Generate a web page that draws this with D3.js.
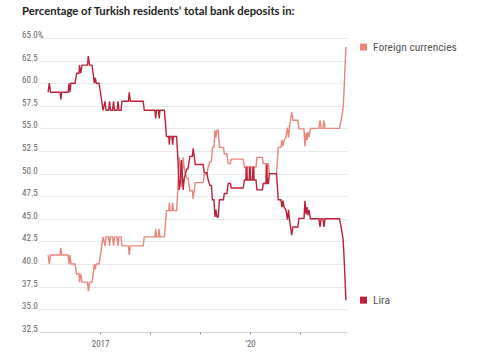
<!DOCTYPE html>
<html>
<head>
<meta charset="utf-8">
<script src="https://cdn.jsdelivr.net/npm/d3@7/dist/d3.min.js"></script>
<style>
  html, body { margin: 0; padding: 0; background: #fff; }
  svg { display: block; }
  .narrow { font-family: "Liberation Sans Narrow", "Roboto Condensed", "DejaVu Sans Condensed", "Liberation Sans", sans-serif; }
  .title { font-family: Lato, "Open Sans", "Noto Sans", sans-serif; }
</style>
</head>
<body>
<svg id="chart" width="500" height="353"></svg>
<script>
// ---- Data ----
const title = "Percentage of Turkish residents\u2019 total bank deposits in:";
const seriesNames = ["Foreign currencies", "Lira"];
const dates = [
  "2015-12-18","2015-12-27","2016-01-05","2016-03-14","2016-03-20","2016-03-27","2016-05-12","2016-05-19","2016-05-26","2016-06-02",
  "2016-07-02","2016-07-14","2016-07-31","2016-08-04","2016-08-13","2016-08-22","2016-10-01","2016-10-07","2016-10-16","2016-11-03",
  "2016-11-12","2016-11-20","2016-11-27","2016-12-04","2016-12-24","2017-01-04","2017-01-13","2017-01-23","2017-02-06","2017-02-14",
  "2017-03-04","2017-03-11","2017-03-18","2017-04-02","2017-04-09","2017-04-16","2017-05-05","2017-05-12","2017-05-19","2017-06-03",
  "2017-06-10","2017-07-27","2017-08-02","2017-08-10","2017-11-12","2017-11-20","2018-02-06","2018-02-11","2018-02-17","2018-03-04",
  "2018-03-09","2018-03-14","2018-04-16","2018-05-01","2018-05-18","2018-05-22","2018-05-27","2018-06-10","2018-06-15","2018-06-21",
  "2018-07-14","2018-07-24","2018-08-02","2018-08-10","2018-08-18","2018-08-26","2018-08-31","2018-09-08","2018-09-25","2018-10-05",
  "2018-10-19","2018-11-06","2018-11-12","2018-11-20","2018-11-27","2019-01-24","2019-02-01","2019-02-21","2019-02-28","2019-03-14",
  "2019-03-25","2019-04-02","2019-04-13","2019-04-20","2019-04-27","2019-05-05","2019-05-14","2019-05-23","2019-06-21","2019-06-28",
  "2019-07-16","2019-07-26","2019-08-11","2019-08-18","2019-11-12","2019-11-22","2019-12-02","2019-12-07","2019-12-13","2019-12-26",
  "2020-01-01","2020-01-07","2020-01-19","2020-01-25","2020-02-01","2020-02-14","2020-02-21","2020-04-01","2020-04-07","2020-04-27",
  "2020-05-02","2020-05-08","2020-05-15","2020-05-22","2020-07-13","2020-07-26","2020-08-14","2020-08-22","2020-08-29","2020-09-06",
  "2020-09-20","2020-10-01","2020-10-09","2020-10-16","2020-11-01","2020-11-10","2020-12-16","2020-12-24","2021-01-30","2021-02-06",
  "2021-02-14","2021-02-21","2021-02-28","2021-03-07","2021-03-18","2021-05-19","2021-05-27","2021-06-03","2021-06-17","2021-06-25",
  "2021-07-02","2021-10-16","2021-10-27","2021-11-12","2021-11-21","2021-12-02"
];
const lira = [
  59.0,60.0,59.0,59.0,58.2,59.0,59.0,60.0,59.0,60.0,
  60.0,61.1,61.1,62.0,61.1,62.0,62.0,63.0,62.0,62.0,
  61.0,60.0,60.6,60.0,60.0,59.0,58.0,57.0,58.0,57.0,
  57.0,58.0,57.0,57.0,58.0,57.0,57.0,58.0,57.0,57.0,
  58.0,58.0,59.0,58.0,58.0,57.0,57.0,56.1,57.0,57.0,
  56.1,57.0,57.0,54.1,54.1,53.2,54.1,54.1,53.2,54.1,
  54.1,51.5,48.2,49.0,51.5,49.5,48.2,49.5,50.5,50.5,
  51.9,51.9,52.8,51.9,51.0,51.0,50.1,50.1,49.4,48.7,
  48.7,47.1,47.1,45.2,46.0,45.2,45.2,47.1,47.1,47.8,
  47.8,48.9,48.9,48.4,48.4,49.3,49.3,50.8,49.3,49.3,
  50.8,49.3,49.3,50.8,49.3,49.3,48.2,48.2,48.9,48.9,
  51.0,48.9,48.9,50.0,50.0,47.1,47.1,46.3,47.0,46.3,
  46.0,44.9,46.0,44.9,43.2,44.1,44.1,45.05,45.05,47.0,
  45.5,46.3,45.4,46.0,45.0,45.0,44.1,45.0,45.0,44.1,
  45.0,45.0,44.2,42.7,40.0,36.0
];
const foreign = [
  41.0,40.0,41.0,41.0,41.8,41.0,41.0,40.0,41.0,40.0,
  40.0,38.9,38.9,38.0,38.9,38.0,38.0,37.0,38.0,38.0,
  39.0,40.0,39.4,40.0,40.0,41.0,42.0,43.0,42.0,43.0,
  43.0,42.0,43.0,43.0,42.0,43.0,43.0,42.0,43.0,43.0,
  42.0,42.0,41.0,42.0,42.0,43.0,43.0,43.9,43.0,43.0,
  43.9,43.0,43.0,45.9,45.9,46.8,45.9,45.9,46.8,45.9,
  45.9,48.5,51.8,51.0,48.5,50.5,51.8,50.5,49.5,49.5,
  48.1,48.1,47.2,48.1,49.0,49.0,49.9,49.9,50.6,51.3,
  51.3,52.9,52.9,54.8,54.0,54.8,54.8,52.9,52.9,52.2,
  52.2,51.1,51.1,51.6,51.6,50.7,50.7,49.2,50.7,50.7,
  49.2,50.7,50.7,49.2,50.7,50.7,51.8,51.8,51.1,51.1,
  49.0,51.1,51.1,50.0,50.0,52.9,52.9,53.7,53.0,53.7,
  54.0,55.1,54.0,55.1,56.8,55.9,55.9,54.95,54.95,53.0,
  54.5,53.7,54.6,54.0,55.0,55.0,55.9,55.0,55.0,55.9,
  55.0,55.0,55.8,57.3,60.0,64.0
];
const yTicks = [32.5, 35, 37.5, 40, 42.5, 45, 47.5, 50, 52.5, 55, 57.5, 60, 62.5, 65];
const xTickYears = ["2017-01-01","2018-01-01","2019-01-01","2020-01-01","2021-01-01"];
const xTickLabels = {"2017-01-01": "2017", "2020-01-01": "\u201920"};

// ---- Drawing ----
const parse = d3.timeParse("%Y-%m-%d");
const svg = d3.select("#chart");
const colors = { "Foreign currencies": "#eb8579", "Lira": "#bd213a" };

const x = d3.scaleTime().domain([parse("2016-01-01"), parse("2022-01-01")]).range([50, 350]);
const y = d3.scaleLinear().domain([32.5, 65]).range([331.8, 38]);

// title: size chosen so that "…total bank de" ends near x=250 as in the reference
const probe = svg.append("text").attr("class", "title").attr("font-weight", "bold")
  .attr("font-size", 11).text("Percentage of Turkish residents\u2019 total bank de");
const probeW = probe.node().getComputedTextLength();
probe.remove();
const titleSize = Math.max(9, Math.min(14, 11 * 228 / probeW));
svg.append("text")
  .attr("x", 22).attr("y", 15)
  .attr("class", "title")
  .attr("font-size", titleSize).attr("font-weight", "bold").attr("fill", "#222")
  .text(title);

// gridlines
const grid = svg.append("g");
grid.selectAll("line").data(yTicks).join("line")
  .attr("x1", 40).attr("x2", 348)
  .attr("y1", d => Math.round(y(d)) + 0.5).attr("y2", d => Math.round(y(d)) + 0.5)
  .attr("stroke", d => d === 32.5 ? "#d4d4d4" : "#e8e8e8").attr("stroke-width", 1);

// y labels
svg.append("g").selectAll("text").data(yTicks).join("text")
  .attr("class", "narrow")
  .attr("x", 22).attr("y", d => Math.round(y(d)) - 0.5)
  .attr("font-size", 9).attr("fill", "#666")
  .text(d => d === 65 ? "65.0%" : d3.format(".1f")(d));

// x axis ticks
const xAxis = d3.axisBottom(x)
  .tickValues(xTickYears.map(parse))
  .tickSize(2)
  .tickFormat(d => xTickLabels[d3.timeFormat("%Y-%m-%d")(d)] || "");
const gx = svg.append("g").attr("transform", `translate(0,${Math.round(y(32.5)) + 0.5})`).call(xAxis);
gx.select(".domain").remove();
gx.selectAll(".tick line").attr("stroke", "#888");
gx.selectAll(".tick text").attr("class", "narrow").attr("font-size", 9).attr("fill", "#666").attr("dy", "1.05em").attr("font-family", null);

// lines
const rows = dates.map((d, i) => ({ date: parse(d), lira: lira[i], foreign: foreign[i] }));
const line = key => d3.line().x(d => x(d.date)).y(d => y(d[key]));
svg.append("path").datum(rows)
  .attr("d", line("foreign")).attr("fill", "none")
  .attr("stroke", colors["Foreign currencies"]).attr("stroke-width", 1.4).attr("stroke-linejoin", "miter");
svg.append("path").datum(rows)
  .attr("d", line("lira")).attr("fill", "none")
  .attr("stroke", colors["Lira"]).attr("stroke-width", 1.4).attr("stroke-linejoin", "miter");

// legend at line ends
const last = rows[rows.length - 1];
const legend = [
  { name: "Foreign currencies", v: last.foreign },
  { name: "Lira", v: last.lira }
];
const lg = svg.append("g").selectAll("g").data(legend).join("g")
  .attr("transform", d => `translate(360,${y(d.v)})`);
lg.append("rect").attr("x", 0).attr("y", -3.5).attr("width", 7).attr("height", 7)
  .attr("fill", d => colors[d.name]);
lg.append("text").attr("class", "narrow").attr("x", 13).attr("y", 4)
  .attr("font-size", 11.5).attr("fill", "#555").text(d => d.name);
</script>
</body>
</html>
